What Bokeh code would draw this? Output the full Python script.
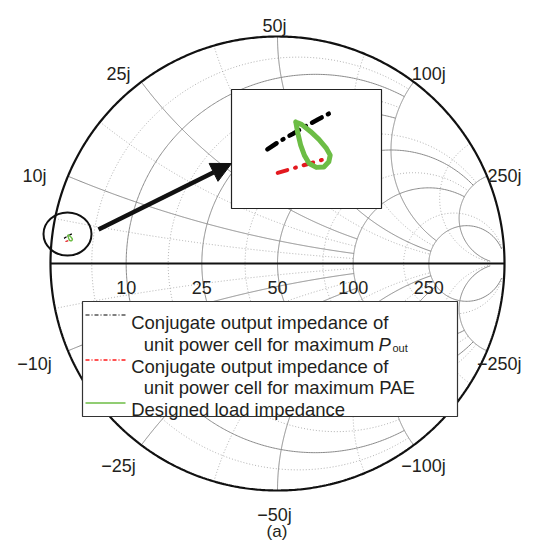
import numpy as np
from bokeh.plotting import figure
from bokeh.models import Range1d, Arrow, NormalHead
from bokeh.core.properties import value
from bokeh.embed import file_html
from bokeh.resources import INLINE

Z0 = 50.0  # reference impedance (ohms)

# ---------------- grid values (normalised to Z0) ----------------
major_values = [0.2, 0.5, 1.0, 2.0, 5.0]
major_r_ends = [2.0, 2.0, 5.0, 5.0, 30.0]   # reactance where resistance circles stop
major_x_ends = [2.0, 2.0, 5.0, 5.0, 30.0]   # resistance where reactance arcs stop
minor_values = [0.1, 0.35, 0.75, 1.5, 3.5]
minor_r_ends = [2.0, 2.0, 5.0, 5.0, 30.0]
minor_x_ends = [2.0, 2.0, 5.0, 5.0, 30.0]

# ---------------- tick labels ----------------
res_ticks = [10, 25, 50, 100, 250]                       # ohms
res_labels = ["10", "25", "50", "100", "250"]
react_ticks = [10, 25, 50, 100, 250, -10, -25, -50, -100, -250]   # ohms
react_labels = ["10j", "25j", "50j", "100j", "250j",
                "\u221210j", "\u221225j", "\u221250j", "\u2212100j", "\u2212250j"]

# ---------------- data: impedances (ohms) ----------------
pout_R = [1.37, 1.55, 1.74, 1.92, 2.11, 2.29]
pout_X = [2.93, 3.08, 3.22, 3.36, 3.50, 3.63]
pae_R = [1.57, 1.74, 1.91, 2.08, 2.25]
pae_X = [2.58, 2.65, 2.72, 2.79, 2.86]
load_R = [1.76, 1.81, 1.88, 1.96, 2.05, 2.17, 2.29, 2.36, 2.37, 2.29, 2.16, 2.01, 1.86, 1.76]
load_X = [3.41, 3.25, 3.06, 2.90, 2.78, 2.73, 2.75, 2.84, 2.95, 3.06, 3.18, 3.29, 3.38, 3.41]

legend_texts = ["Conjugate output impedance of",
                "unit power cell for maximum",
                "Conjugate output impedance of",
                "unit power cell for maximum PAE",
                "Designed load impedance"]
caption = "(a)"

# ---------------- layout ----------------
PX = 227.0                 # pixels per unit of reflection coefficient
CXP, CYP = 277.0, 263.0    # canvas position of chart centre
W, H = 522, 540
FONT = value("Liberation Sans")
INK = "#231f20"
GREEN = "#6cbd45"
RED = "#e3191f"


def d(xp, yp):
    return (xp - CXP) / PX, (CYP - yp) / PX


def gamma(z):
    return (z - 1) / (z + 1)


x0, x1 = (0 - CXP) / PX, (W - CXP) / PX
y1, y0 = (CYP - 0) / PX, (CYP - H) / PX

p = figure(width=W, height=H, x_range=Range1d(x0, x1), y_range=Range1d(y0, y1),
           output_backend="svg", toolbar_location=None, min_border=0)
p.axis.visible = False
p.grid.visible = False
p.outline_line_color = None
p.background_fill_color = "white"
p.border_fill_color = "white"


def r_circle(r, xe, n=500):
    t = np.linspace(-np.arctan(xe), np.arctan(xe), n)
    g = gamma(r + 1j * np.tan(t))
    return list(g.real), list(g.imag)


def x_arc(xv, re, n=400):
    t = np.linspace(0, np.arctan(re), n)
    g = gamma(np.tan(t) + 1j * xv)
    return list(g.real), list(g.imag)


def grid(values, r_ends, x_ends):
    xs, ys = [], []
    for v, er, ex in zip(values, r_ends, x_ends):
        a, b = r_circle(v, er)
        xs.append(a); ys.append(b)
        for s in (1, -1):
            a, b = x_arc(s * v, ex)
            xs.append(a); ys.append(b)
    return xs, ys


mx, my = grid(minor_values, minor_r_ends, minor_x_ends)
p.multi_line(mx, my, line_color="#a8a8a8", line_width=0.9, line_dash="1 2")
Mx, My = grid(major_values, major_r_ends, major_x_ends)
p.multi_line(Mx, My, line_color="#8a8a8a", line_width=1.0)

# outer circle and real axis
th = np.linspace(0, 2 * np.pi, 720)
p.line(np.cos(th), np.sin(th), line_color="#111111", line_width=2.2)
p.line([gamma(0.0), 1.0], [0, 0], line_color="#111111", line_width=2.0)


# main-chart traces (tiny)
def to_gamma(R, X):
    g = gamma((np.array(R) + 1j * np.array(X)) / Z0)
    return g.real, g.imag


pg = to_gamma(pout_R, pout_X)
ag = to_gamma(pae_R, pae_X)
lg = to_gamma(load_R, load_X)
p.line(pg[0], pg[1], line_color="black", line_width=1.2, line_dash="3 1 1 1")
p.line(ag[0], ag[1], line_color=RED, line_width=1.2, line_dash="3 1 1 1")
p.line(lg[0], lg[1], line_color=GREEN, line_width=1.4)

# ellipse marking zoomed region
ex, ey = d(67, 233.5)
p.ellipse(x=ex, y=ey, width=48 / PX, height=43 / PX, fill_color=None,
          line_color="#111111", line_width=2.0)

# arrow
ax0, ay0 = d(98, 229)
ax1, ay1 = d(231, 163)
p.add_layout(Arrow(end=NormalHead(size=20, fill_color="#111111", line_color="#111111"),
                   x_start=ax0, y_start=ay0, x_end=ax1, y_end=ay1,
                   line_width=4.5, line_color="#111111"))

# inset box
bl, bt = d(231, 89)
br, bb = d(381, 208)
p.quad(left=bl, right=br, top=bt, bottom=bb, fill_color="white",
       line_color="#222222", line_width=1.2)

# inset magnified traces through extra ranges
M = 7.5
focus = gamma((1.6 + 3.0j) / Z0)
fa = d(282, 146)
p.extra_x_ranges = {"zoom": Range1d(focus.real + (x0 - fa[0]) / M, focus.real + (x1 - fa[0]) / M)}
p.extra_y_ranges = {"zoom": Range1d(focus.imag + (y0 - fa[1]) / M, focus.imag + (y1 - fa[1]) / M)}
zk = dict(x_range_name="zoom", y_range_name="zoom")
p.line(pg[0], pg[1], line_color="black", line_width=4.5, line_dash="11 7 1 7",
       line_cap="round", **zk)
p.line(ag[0], ag[1], line_color=RED, line_width=4.0, line_dash="10 8 1 8",
       line_cap="round", **zk)
p.line(lg[0], lg[1], line_color=GREEN, line_width=5.0, line_join="round",
       line_cap="round", **zk)

# legend
ll, lt = d(82, 301)
lr, lb = d(457, 416)
p.quad(left=ll, right=lr, top=lt, bottom=lb, fill_color="white",
       line_color="#333333", line_width=1.2)
sx0 = d(85, 0)[0]
sx1 = d(125, 0)[0]
for yp, col, dash, lw in [(314.5, "black", "4 2 1 2", 1.1),
                          (359.5, "#ff1a1a", "4 2 1 2", 1.4),
                          (402.5, GREEN, "solid", 1.7)]:
    yy = d(0, yp)[1]
    p.line([sx0, sx1], [yy, yy], line_color=col, line_dash=dash, line_width=lw)

tx = [d(130.7, 0)[0], d(143.3, 0)[0], d(130.7, 0)[0], d(143.3, 0)[0], d(130.7, 0)[0]]
ty = [d(0, yb)[1] for yb in (321.7, 343.5, 365.5, 387.3, 409.2)]
p.text(x=tx, y=ty, text=legend_texts, text_font=FONT, text_font_size="18.5px",
       text_color=INK, text_align="left", text_baseline="alphabetic")
px_, py_ = d(378, 343.5)
p.text(x=[px_], y=[py_], text=["P"], text_font=FONT, text_font_size="18.5px",
       text_font_style="italic", text_color=INK, text_baseline="alphabetic")
ox, oy = d(392, 347.5)
p.text(x=[ox], y=[oy], text=["out"], text_font=FONT, text_font_size="11px",
       text_color=INK, text_baseline="alphabetic")

# real-axis labels
rx = [gamma(v / Z0) for v in res_ticks]
p.text(x=rx, y=[-23.7 / PX] * len(rx), text=res_labels, text_font=FONT,
       text_font_size="18px", text_color=INK, text_align="center",
       text_baseline="alphabetic")

# circumference labels
for v, lab in zip(react_ticks, react_labels):
    g = gamma(1j * v / Z0)
    ux, uy = g.real, g.imag
    cy = uy + (uy * 17.5 - 6.5) / PX
    if ux > 0.3:
        cx = min(ux + (ux * 29.4 + 14.4) / PX, (W - 1 - CXP) / PX)
        align = "right"
    elif ux < -0.3:
        cx = ux + (ux * 33 - 3) / PX
        align = "center"
    else:
        cx = ux - 3 / PX
        align = "center"
    p.text(x=[cx], y=[cy], text=[lab], text_font=FONT, text_font_size="18px",
           text_color=INK, text_align=align, text_baseline="alphabetic")

# caption (kept inside the canvas)
cx_, cy_ = d(276.5, 531)
p.text(x=[cx_], y=[cy_], text=[caption], text_font=FONT, text_font_size="17px",
       text_color=INK, text_align="center", text_baseline="alphabetic")

open("out.html", "w").write(file_html(p, INLINE))
